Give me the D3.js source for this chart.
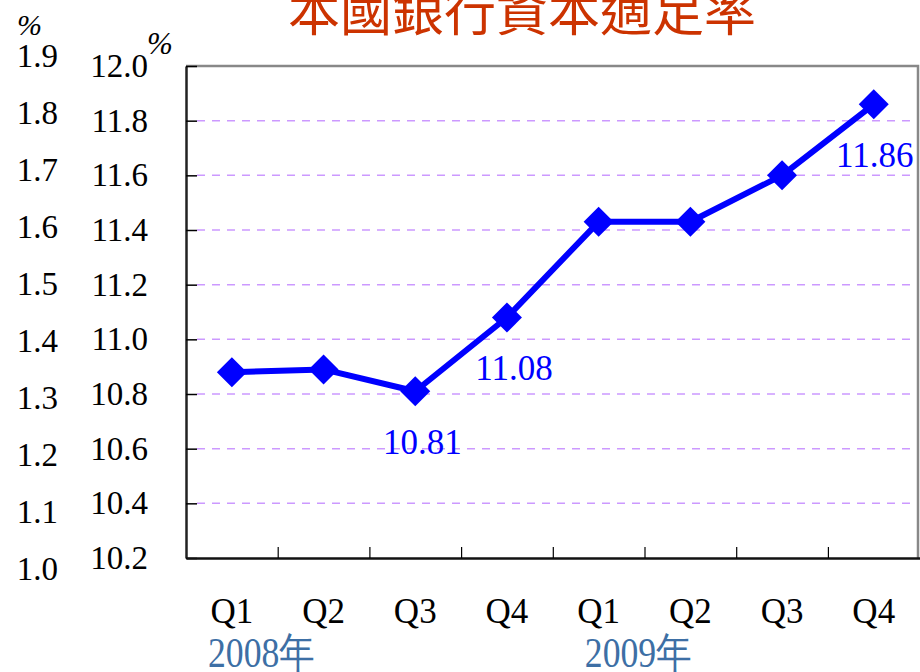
<!DOCTYPE html>
<html>
<head>
<meta charset="utf-8">
<script src="https://cdn.jsdelivr.net/npm/d3@7"></script>
<style>
  body { margin: 0; background: #fff; }
  svg { display: block; }
</style>
</head>
<body>
<svg id="chart"></svg>
<script>
// chart data
const quarters = ["Q1", "Q2", "Q3", "Q4", "Q1", "Q2", "Q3", "Q4"];
const ratios = [10.88, 10.89, 10.81, 11.08, 11.43, 11.43, 11.60, 11.86];
const labelled = [2, 3, 7];   // points that carry a value label
const years = ["2008年", "2009年"];
const yearStart = [0, 4];     // first quarter of each year
const leftTicks = [1.0, 1.1, 1.2, 1.3, 1.4, 1.5, 1.6, 1.7, 1.8, 1.9];
const rightTicks = [10.2, 10.4, 10.6, 10.8, 11.0, 11.2, 11.4, 11.6, 11.8, 12.0];

const width = 920, height = 672;
const plotLeft = 186, plotRight = 919.6, plotTop = 66, plotBottom = 558;

const svg = d3.select("#chart").attr("width", width).attr("height", height);

const x = d3.scaleBand().domain(d3.range(quarters.length)).range([plotLeft, plotRight]);
const xEdge = d3.scaleLinear().domain([0, quarters.length]).range([plotLeft, plotRight]);
const y = d3.scaleLinear().domain([10.2, 12.0]).range([plotBottom, plotTop]);
const yLeft = d3.scaleLinear().domain([1.0, 1.9]).range([568, 55]);

const serif = "'Liberation Serif', 'Times New Roman', serif";

// title
svg.append("text")
    .attr("x", 522).attr("y", 31)
    .attr("text-anchor", "middle")
    .style("font-family", "'Noto Sans CJK TC', sans-serif")
    .style("font-size", "52px")
    .style("fill", "#cc3300")
    .text("本國銀行資本適足率");

// gridlines
svg.append("g")
    .selectAll("line")
    .data(rightTicks.slice(1, -1))
    .enter().append("line")
    .attr("x1", plotLeft + 11).attr("x2", 918)
    .attr("y1", d => y(d)).attr("y2", d => y(d))
    .attr("stroke", "#cc99ff")
    .attr("stroke-width", 1.5)
    .attr("stroke-dasharray", "8,7");

// frame: top and right in grey
svg.append("path")
    .attr("d", `M${plotLeft},${plotTop}H918V${plotBottom}`)
    .attr("fill", "none")
    .attr("stroke", "#888")
    .attr("stroke-width", 2.5);

// main value axis, drawn on the left edge of the plot
const yAxis = svg.append("g")
    .attr("transform", `translate(${plotLeft},0)`)
    .call(d3.axisLeft(y).tickValues(rightTicks).tickFormat(d3.format(".1f"))
        .tickSizeInner(-11).tickSizeOuter(0).tickPadding(38));
yAxis.select(".domain").attr("stroke", "#222").attr("stroke-width", 2.5);
yAxis.selectAll(".tick line").attr("stroke", "#000").attr("stroke-width", 1.5);
yAxis.selectAll("text")
    .style("font-family", serif).style("font-size", "33px").style("fill", "#000");

// secondary labels on far left
svg.append("g")
    .selectAll("text")
    .data(leftTicks)
    .enter().append("text")
    .attr("x", 58)
    .attr("y", d => yLeft(d))
    .attr("dy", "0.35em")
    .attr("text-anchor", "end")
    .style("font-family", serif).style("font-size", "33px")
    .text(d => d.toFixed(1));

// unit marks
svg.append("text").attr("x", 17).attr("y", 35)
    .style("font-family", serif).style("font-style", "italic").style("font-size", "30px")
    .text("%");
svg.append("text").attr("x", 147).attr("y", 54)
    .style("font-family", serif).style("font-style", "italic").style("font-size", "31px")
    .text("%");

// x axis with ticks between quarters
const xAxis = svg.append("g")
    .attr("transform", `translate(0,${plotBottom})`)
    .call(d3.axisBottom(xEdge).tickValues(d3.range(1, quarters.length))
        .tickFormat("").tickSizeInner(-11).tickSizeOuter(0));
xAxis.select(".domain").attr("stroke", "#111").attr("stroke-width", 2.5);
xAxis.selectAll(".tick line").attr("stroke", "#000").attr("stroke-width", 1.2);

// quarter labels
const qAxis = svg.append("g")
    .attr("transform", `translate(0,${plotBottom})`)
    .call(d3.axisBottom(x).tickFormat(i => quarters[i]).tickSize(0).tickPadding(40));
qAxis.select(".domain").remove();
qAxis.selectAll("text")
    .style("font-family", serif).style("font-size", "35px").style("fill", "#000");

// year labels
const yearOffset = [22, 32];
svg.append("g")
    .selectAll("text")
    .data(years)
    .enter().append("text")
    .attr("x", (d, i) => x(yearStart[i]) + yearOffset[i])
    .attr("y", 667)
    .attr("textLength", 107)
    .attr("lengthAdjust", "spacingAndGlyphs")
    .style("font-family", serif).style("font-size", "42px")
    .style("fill", "#3d6fa5")
    .text(d => d);

// line
const cx = i => x(i) + x.bandwidth() / 2;
svg.append("path")
    .datum(ratios)
    .attr("fill", "none")
    .attr("stroke", "#0000ff")
    .attr("stroke-width", 6)
    .attr("stroke-linejoin", "round")
    .attr("d", d3.line().x((d, i) => cx(i)).y(d => y(d)));

// diamond markers
svg.append("g")
    .selectAll("path")
    .data(ratios)
    .enter().append("path")
    .attr("d", d3.symbol(d3.symbolSquare, 450))
    .attr("transform", (d, i) => `translate(${cx(i)},${y(d)}) rotate(45)`)
    .attr("fill", "#0000ff");

// value labels
const labelShift = [7, 7, 1];
svg.append("g")
    .selectAll("text")
    .data(labelled)
    .enter().append("text")
    .attr("x", (i, k) => cx(i) + labelShift[k])
    .attr("y", i => y(ratios[i]) + 63)
    .attr("text-anchor", "middle")
    .style("font-family", serif).style("font-size", "35px")
    .style("fill", "#0000ff")
    .text(i => ratios[i].toFixed(2));
</script>
</body>
</html>
